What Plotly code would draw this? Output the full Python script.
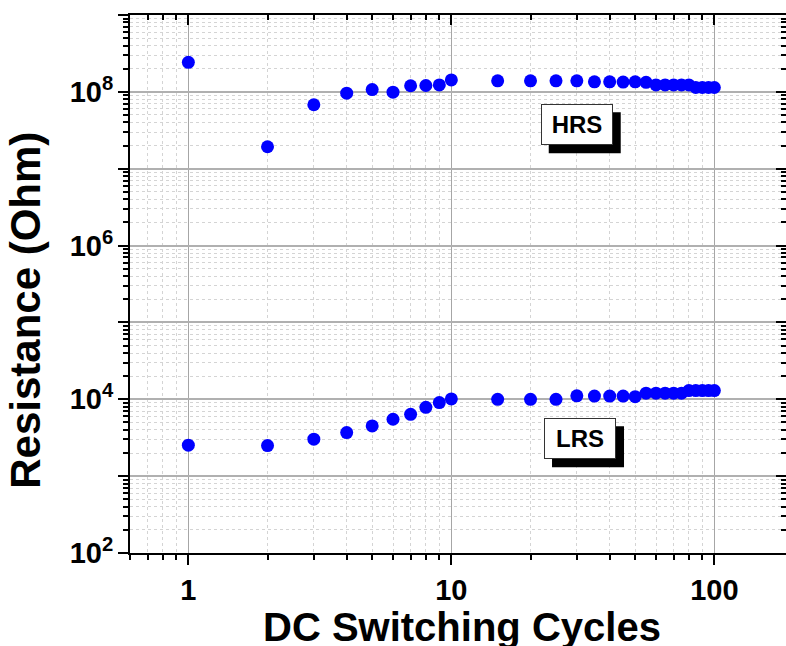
import math
import plotly.graph_objects as go

# ---- data ----
cycles = [1, 2, 3, 4, 5, 6, 7, 8, 9, 10, 15, 20, 25, 30, 35, 40, 45, 50,
          55, 60, 65, 70, 75, 80, 85, 90, 95, 100]
hrs = [2.42e8, 1.93e7, 6.8e7, 9.6e7, 1.07e8, 9.9e7, 1.2e8, 1.21e8, 1.23e8, 1.43e8,
       1.39e8, 1.39e8, 1.39e8, 1.39e8, 1.35e8, 1.35e8, 1.34e8, 1.35e8,
       1.33e8, 1.23e8, 1.23e8, 1.23e8, 1.23e8, 1.23e8, 1.14e8, 1.14e8, 1.14e8, 1.14e8]
lrs = [2.53e3, 2.5e3, 3.03e3, 3.69e3, 4.5e3, 5.5e3, 6.38e3, 7.87e3, 9.06e3, 1.01e4,
       1.0e4, 1.0e4, 1.0e4, 1.11e4, 1.1e4, 1.1e4, 1.1e4, 1.08e4,
       1.2e4, 1.2e4, 1.2e4, 1.2e4, 1.2e4, 1.3e4, 1.3e4, 1.3e4, 1.3e4, 1.3e4]

x_ticks = [1, 10, 100]
x_ticktext = ["1", "10", "100"]
y_decades = [1e2, 1e3, 1e4, 1e5, 1e6, 1e7, 1e8, 1e9]
y_label_vals = [1e2, 1e4, 1e6, 1e8]
y_label_text = ["10<sup>2</sup>", "10<sup>4</sup>", "10<sup>6</sup>", "10<sup>8</sup>"]
x_minor = [0.6, 0.7, 0.8, 0.9] + [d for d in range(2, 10)] + [d * 10 for d in range(2, 10)] + [200]
y_minor = [d * 10 ** k for k in range(2, 9) for d in range(2, 10)]

FONT = "Liberation Sans, Arial, Helvetica, sans-serif"
BLUE = "#0000ff"
W, H = 786, 646
ML, MR, MT, MB = 130, 0, 15, 93
PX_PER_DEC_X = 263.0
x0 = math.log10(0.6)
x_range = [x0, x0 + (W - ML - MR) / PX_PER_DEC_X]
y_range = [2, 9]

fig = go.Figure()
fig.add_trace(go.Scatter(x=cycles, y=hrs, mode="markers", name="HRS",
                         marker=dict(size=13, color=BLUE, line=dict(width=0))))
fig.add_trace(go.Scatter(x=cycles, y=lrs, mode="markers", name="LRS",
                         marker=dict(size=13, color=BLUE, line=dict(width=0))))
# invisible helper traces for the extra (top / right / label) axes
fig.add_trace(go.Scatter(x=[1], y=[1e5], xaxis="x2", yaxis="y2", mode="markers",
                         marker=dict(opacity=0), hoverinfo="skip", showlegend=False))
fig.add_trace(go.Scatter(x=[1], y=[1e5], xaxis="x", yaxis="y3", mode="markers",
                         marker=dict(opacity=0), hoverinfo="skip", showlegend=False))

tickfont = dict(family=FONT, size=29, color="black", weight="bold")

fig.update_layout(
    width=W, height=H,
    margin=dict(l=ML, r=MR, t=MT, b=MB, pad=0),
    paper_bgcolor="white", plot_bgcolor="white",
    showlegend=False,
    xaxis=dict(type="log", range=x_range, tickmode="array", tickvals=x_ticks, ticktext=x_ticktext,
               ticks="outside", ticklen=10, tickwidth=2, tickcolor="black",
               showline=True, linewidth=2, linecolor="black",
               showgrid=True, gridcolor="#a6a6a6", gridwidth=1, zeroline=False,
               tickfont=tickfont,
               minor=dict(tickmode="array", tickvals=x_minor, ticks="outside", ticklen=5,
                          tickwidth=1.5, tickcolor="black", showgrid=True,
                          gridcolor="#d4d4d4", griddash="dot", gridwidth=1)),
    yaxis=dict(type="log", range=y_range, tickmode="array", tickvals=y_decades,
               showticklabels=False,
               ticks="outside", ticklen=10, tickwidth=2, tickcolor="black",
               showline=True, linewidth=2, linecolor="black",
               showgrid=True, gridcolor="#b0b0b0", gridwidth=1.5, zeroline=False,
               minor=dict(tickmode="array", tickvals=y_minor, ticks="outside", ticklen=5,
                          tickwidth=1.5, tickcolor="black", showgrid=True,
                          gridcolor="#d4d4d4", griddash="dot", gridwidth=1)),
    yaxis3=dict(type="log", range=y_range, overlaying="y", side="left", anchor="x",
                tickmode="array", tickvals=y_label_vals, ticktext=y_label_text,
                ticks="outside", ticklen=10, tickwidth=2, tickcolor="black",
                showline=False, showgrid=False, zeroline=False, tickfont=tickfont),
    xaxis2=dict(type="log", range=x_range, overlaying="x", side="top", anchor="y2",
                tickmode="array", tickvals=x_ticks, showticklabels=False,
                ticks="inside", ticklen=10, tickwidth=2, tickcolor="black",
                showline=True, linewidth=2, linecolor="black", showgrid=False, zeroline=False,
                minor=dict(tickmode="array", tickvals=x_minor, ticks="inside", ticklen=5,
                           tickwidth=1.5, tickcolor="black", showgrid=False)),
    yaxis2=dict(type="log", range=y_range, overlaying="y", side="right", anchor="x2",
                tickmode="array", tickvals=y_decades, showticklabels=False,
                ticks="inside", ticklen=10, tickwidth=2, tickcolor="black",
                showline=False, showgrid=False, zeroline=False,
                minor=dict(tickmode="array", tickvals=y_minor, ticks="inside", ticklen=5,
                           tickwidth=1.5, tickcolor="black", showgrid=False)),
)

title_font = dict(family=FONT, size=40, color="black", weight="bold")
annotations = [
    dict(text="DC Switching Cycles", xref="paper", yref="paper", x=0.506, y=0,
         xanchor="center", yanchor="top", yshift=-50, showarrow=False, font=title_font),
    dict(text="Resistance (Ohm)", xref="paper", yref="paper", x=-0.1586, y=0.452,
         xanchor="center", yanchor="middle", textangle=-90, showarrow=False,
         font=dict(family=FONT, size=42, color="black", weight="bold")),
]

label_font = dict(family=FONT, size=24, color="black", weight="bold")
shapes = []
BW, BH, OFF = 72, 41, 8
for txt, xp, yp in [("HRS", 0.681, 0.796), ("LRS", 0.686, 0.2123)]:
    # drop shadow behind the label box
    shapes.append(dict(type="rect", xref="paper", yref="paper",
                       xsizemode="pixel", ysizemode="pixel", xanchor=xp, yanchor=yp,
                       x0=-BW / 2 + OFF, x1=BW / 2 + OFF, y0=-BH / 2 - OFF, y1=BH / 2 - OFF,
                       fillcolor="black", line=dict(width=0), layer="above"))
    annotations.append(dict(text=txt, xref="paper", yref="paper", x=xp, y=yp,
                            xanchor="center", yanchor="middle",
                            showarrow=False, font=label_font, bgcolor="white",
                            bordercolor="#333333", borderwidth=1, borderpad=1,
                            width=BW - 4, height=BH - 4))

fig.update_layout(annotations=annotations, shapes=shapes)

fig.write_html("out.html")
